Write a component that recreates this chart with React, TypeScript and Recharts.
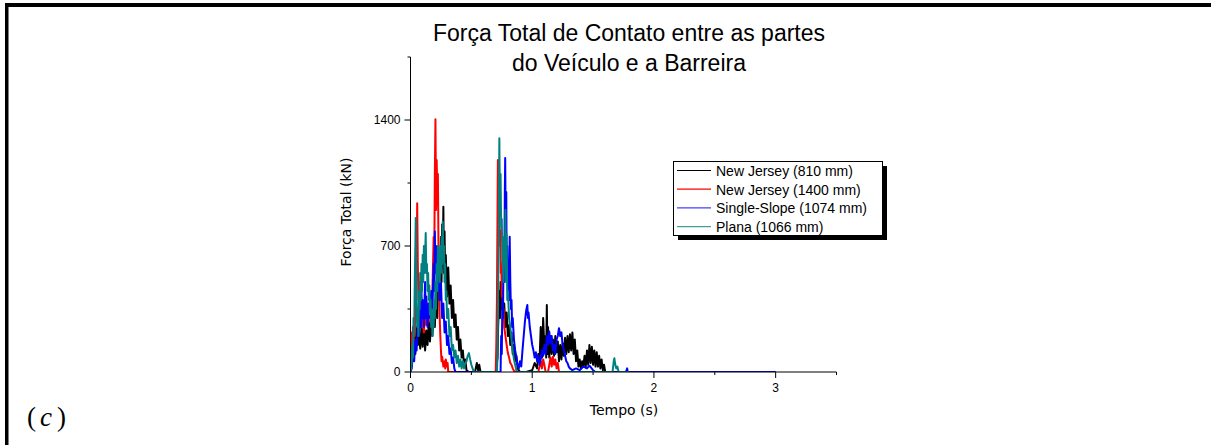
import React from 'react';
import { LineChart, Line, XAxis, YAxis } from 'recharts';

// ---- data (time in s, force in kN) ----
const seriesNames = ['New Jersey (810 mm)', 'New Jersey (1400 mm)', 'Single-Slope (1074 mm)', 'Plana (1066 mm)'];
const seriesColors = ['#000000', '#ff0000', '#0000ff', '#008080'];
const legendColors = ['#000000', '#ff0000', '#4040ff', '#40a0a0'];

const blackPts: [number, number][] = [
  [0, 0], [0.01, 50], [0.02, 180], [0.025, 120], [0.03, 220], [0.04, 100], [0.05, 250], [0.06, 150], [0.07, 200], [0.08, 130],
  [0.09, 250], [0.1, 140], [0.11, 260], [0.12, 120], [0.13, 230], [0.14, 150], [0.15, 280], [0.16, 170], [0.17, 300], [0.18, 200],
  [0.19, 330], [0.2, 250], [0.21, 450], [0.22, 300], [0.23, 600], [0.24, 400], [0.25, 750], [0.255, 500], [0.26, 820], [0.265, 600],
  [0.27, 918], [0.275, 550], [0.28, 780], [0.285, 500], [0.29, 650], [0.3, 420], [0.31, 580], [0.32, 380], [0.33, 480], [0.34, 300],
  [0.35, 400], [0.36, 250], [0.37, 320], [0.38, 180], [0.39, 250], [0.4, 120], [0.41, 180], [0.42, 80], [0.43, 120], [0.44, 40],
  [0.45, 70], [0.46, 10], [0.48, 0], [0.53, 0], [0.545, 50], [0.555, 10], [0.565, 40], [0.575, 0], [0.7, 0], [0.715, 80],
  [0.72, 250], [0.725, 350], [0.73, 450], [0.735, 300], [0.74, 500], [0.745, 350], [0.75, 430], [0.76, 300], [0.77, 380], [0.78, 250],
  [0.79, 330], [0.8, 200], [0.81, 260], [0.82, 150], [0.83, 220], [0.84, 100], [0.85, 150], [0.86, 60], [0.87, 90], [0.88, 20],
  [0.9, 0], [0.95, 0], [1.0, 10], [1.02, 50], [1.04, 20], [1.05, 100], [1.06, 60], [1.07, 250], [1.08, 80], [1.09, 300],
  [1.1, 120], [1.11, 200], [1.115, 80], [1.12, 372], [1.125, 100], [1.13, 250], [1.14, 80], [1.15, 200], [1.16, 100], [1.17, 180],
  [1.18, 90], [1.19, 200], [1.2, 110], [1.21, 170], [1.22, 60], [1.23, 150], [1.24, 70], [1.25, 160], [1.26, 90], [1.27, 190],
  [1.28, 100], [1.29, 200], [1.3, 110], [1.31, 210], [1.32, 120], [1.33, 220], [1.34, 100], [1.35, 180], [1.36, 60], [1.37, 120],
  [1.38, 30], [1.39, 70], [1.4, 20], [1.41, 60], [1.42, 30], [1.43, 90], [1.44, 30], [1.45, 120], [1.46, 40], [1.47, 150],
  [1.48, 50], [1.49, 140], [1.5, 40], [1.51, 120], [1.52, 30], [1.53, 110], [1.54, 30], [1.55, 90], [1.56, 20], [1.57, 70],
  [1.58, 10], [1.59, 40], [1.6, 0], [1.65, 0],
];

const redPts: [number, number][] = [
  [0, 0], [0.005, 150], [0.01, 220], [0.015, 100], [0.02, 250], [0.025, 150], [0.03, 300], [0.035, 200], [0.04, 400], [0.045, 700],
  [0.05, 600], [0.055, 937], [0.06, 600], [0.065, 400], [0.07, 500], [0.075, 300], [0.08, 380], [0.09, 250], [0.1, 330], [0.11, 220],
  [0.12, 350], [0.13, 260], [0.14, 380], [0.15, 280], [0.16, 400], [0.17, 300], [0.18, 450], [0.19, 750], [0.195, 600], [0.2, 1100],
  [0.205, 1404], [0.21, 900], [0.215, 1178], [0.22, 1000], [0.225, 1100], [0.23, 700], [0.235, 500], [0.24, 300], [0.245, 200], [0.25, 120],
  [0.255, 60], [0.26, 85], [0.27, 30], [0.28, 60], [0.285, 20], [0.29, 70], [0.3, 30], [0.305, 50], [0.31, 0], [0.7, 0],
  [0.705, 150], [0.71, 400], [0.715, 900], [0.718, 1178], [0.722, 900], [0.727, 1000], [0.732, 700], [0.737, 789], [0.742, 550], [0.746, 605],
  [0.75, 420], [0.755, 450], [0.76, 320], [0.765, 350], [0.77, 250], [0.78, 200], [0.79, 150], [0.8, 105], [0.81, 80], [0.82, 50],
  [0.83, 40], [0.84, 20], [0.855, 0], [1.05, 0], [1.06, 30], [1.07, 60], [1.08, 20], [1.09, 70], [1.1, 40], [1.11, 0],
  [1.13, 0], [1.14, 40], [1.15, 80], [1.16, 30], [1.17, 85], [1.18, 40], [1.19, 70], [1.2, 20], [1.21, 50], [1.22, 0], [1.5, 0],
];

const bluePts: [number, number][] = [
  [0, 0], [0.01, 20], [0.02, 100], [0.03, 60], [0.04, 180], [0.05, 120], [0.06, 250], [0.07, 200], [0.08, 350], [0.085, 250],
  [0.09, 450], [0.095, 300], [0.1, 400], [0.11, 250], [0.12, 500], [0.125, 300], [0.13, 420], [0.14, 250], [0.15, 380], [0.16, 300],
  [0.17, 450], [0.18, 350], [0.19, 600], [0.195, 450], [0.2, 780], [0.205, 550], [0.21, 700], [0.22, 450], [0.23, 600], [0.24, 400],
  [0.25, 500], [0.26, 300], [0.27, 380], [0.28, 220], [0.29, 280], [0.3, 150], [0.31, 200], [0.32, 100], [0.33, 130], [0.34, 50],
  [0.35, 80], [0.36, 20], [0.37, 0], [0.74, 0], [0.745, 200], [0.75, 100], [0.755, 400], [0.76, 300], [0.765, 700], [0.77, 500],
  [0.775, 1000], [0.778, 1189], [0.782, 800], [0.787, 1000], [0.79, 600], [0.795, 700], [0.8, 450], [0.805, 600], [0.81, 400], [0.815, 752],
  [0.82, 500], [0.825, 350], [0.83, 400], [0.835, 250], [0.84, 300], [0.85, 180], [0.86, 120], [0.87, 80], [0.88, 40], [0.89, 20],
  [0.9, 60], [0.91, 30], [0.92, 120], [0.93, 200], [0.94, 280], [0.95, 340], [0.96, 372], [0.965, 300], [0.97, 330], [0.98, 250],
  [0.99, 200], [1.0, 150], [1.01, 120], [1.02, 80], [1.03, 110], [1.04, 60], [1.05, 90], [1.06, 40], [1.07, 70], [1.08, 120],
  [1.09, 90], [1.1, 150], [1.11, 100], [1.12, 200], [1.13, 150], [1.14, 225], [1.15, 160], [1.16, 200], [1.17, 120], [1.18, 150],
  [1.19, 100], [1.2, 180], [1.21, 200], [1.22, 243], [1.23, 200], [1.24, 220], [1.25, 150], [1.26, 120], [1.27, 90], [1.28, 60],
  [1.29, 50], [1.3, 30], [1.31, 20], [1.33, 10], [1.36, 20], [1.39, 10], [1.42, 30], [1.45, 20], [1.47, 35], [1.5, 10],
  [1.52, 0], [1.77, 0], [1.78, 20], [1.785, 0], [3.0, 0],
];

const tealPts: [number, number][] = [
  [0, 0], [0.01, 50], [0.015, 150], [0.02, 80], [0.025, 300], [0.03, 200], [0.035, 500], [0.04, 700], [0.043, 855], [0.047, 600],
  [0.05, 400], [0.055, 250], [0.06, 350], [0.065, 200], [0.07, 450], [0.075, 350], [0.08, 550], [0.085, 400], [0.09, 600], [0.095, 450],
  [0.1, 650], [0.105, 500], [0.11, 700], [0.115, 550], [0.12, 650], [0.125, 772], [0.13, 550], [0.135, 600], [0.14, 450], [0.145, 550],
  [0.15, 400], [0.155, 480], [0.16, 320], [0.165, 400], [0.17, 250], [0.175, 350], [0.18, 200], [0.185, 300], [0.19, 250], [0.195, 400],
  [0.2, 300], [0.205, 500], [0.21, 350], [0.215, 600], [0.22, 450], [0.225, 700], [0.23, 550], [0.235, 650], [0.24, 500], [0.245, 700],
  [0.25, 550], [0.255, 750], [0.26, 600], [0.265, 835], [0.27, 650], [0.275, 700], [0.28, 500], [0.285, 600], [0.29, 400], [0.295, 450],
  [0.3, 300], [0.31, 350], [0.32, 200], [0.33, 250], [0.34, 120], [0.35, 150], [0.36, 80], [0.37, 120], [0.38, 50], [0.39, 90],
  [0.4, 30], [0.41, 70], [0.42, 20], [0.43, 60], [0.44, 20], [0.45, 50], [0.46, 60], [0.47, 90], [0.48, 105], [0.49, 70],
  [0.5, 40], [0.51, 20], [0.52, 0], [0.71, 0], [0.715, 100], [0.72, 400], [0.725, 800], [0.73, 1298], [0.735, 900], [0.74, 1100],
  [0.745, 800], [0.75, 850], [0.755, 600], [0.76, 750], [0.765, 500], [0.77, 700], [0.775, 600], [0.78, 900], [0.785, 500], [0.79, 765],
  [0.795, 400], [0.8, 450], [0.81, 300], [0.82, 250], [0.83, 180], [0.84, 120], [0.85, 70], [0.86, 40], [0.87, 10], [0.88, 0],
  [1.66, 0], [1.67, 60], [1.675, 77], [1.68, 50], [1.69, 20], [1.7, 30], [1.71, 0], [1.8, 0],
];

const xTicks = [0, 0.5, 1, 1.5, 2, 2.5, 3, 3.5];
const xMajorTicks = [0, 1, 2, 3];
const xTickLabels = ['0', '1', '2', '3'];
const yTicks = [0, 350, 700, 1050, 1400, 1750];
const yMajorTicks = [0, 700, 1400];
const yTickLabels = ['0', '700', '1400'];

const titleLines = ['Força Total de Contato entre as partes', 'do Veículo e a Barreira'];
const xLabel = 'Tempo (s)';
const yLabel = 'Força Total (kN)';

// ---- layout ----
const W = 1211;
const H = 445;
const AX_X = 410.5;
const AX_Y = 372;
const FONT = '"Liberation Sans", Arial, sans-serif';

const toRows = (pts: [number, number][]) => pts.map(([t, f]) => ({ t, f }));
const allSeries = [blackPts, redPts, bluePts, tealPts].map(toRows);

const XTick = (props: any) => {
  const { x, payload } = props;
  const v = payload.value as number;
  const idx = xMajorTicks.indexOf(v);
  const major = idx >= 0;
  return (
    <g>
      <line x1={x} x2={x} y1={AX_Y} y2={AX_Y + (major ? 6 : 3)} stroke="#000" strokeWidth={1} />
      {major && (
        <text x={x} y={AX_Y + 20} textAnchor="middle" fontSize={12} fontFamily={FONT} fill="#000">
          {xTickLabels[idx]}
        </text>
      )}
    </g>
  );
};

const YTick = (props: any) => {
  const { y, payload } = props;
  const v = payload.value as number;
  const idx = yMajorTicks.indexOf(v);
  const major = idx >= 0;
  return (
    <g>
      <line x1={AX_X - (major ? 6 : 3)} x2={AX_X} y1={y} y2={y} stroke="#000" strokeWidth={1} />
      {major && (
        <text x={AX_X - 10} y={y + 4.3} textAnchor="end" fontSize={12} fontFamily={FONT} fill="#000">
          {yTickLabels[idx]}
        </text>
      )}
    </g>
  );
};

export default function App() {
  const legendRowsY = [170.5, 189.2, 207.9, 226.6];
  return (
    <div style={{ position: 'absolute', left: 0, top: 0, width: W, height: H, background: '#fff' }}>
      <LineChart
        width={W}
        height={H}
        margin={{ top: 57, right: W - 836.5, bottom: 43, left: AX_X - 60 }}
      >
        <XAxis
          dataKey="t"
          type="number"
          domain={[0, 3.5]}
          ticks={xTicks}
          interval={0}
          height={30}
          tickLine={false}
          tick={<XTick />}
          axisLine={{ stroke: '#000', strokeWidth: 1 }}
          allowDataOverflow
        />
        <YAxis
          type="number"
          domain={[0, 1750]}
          ticks={yTicks}
          interval={0}
          width={60}
          tickLine={false}
          tick={<YTick />}
          axisLine={{ stroke: '#000', strokeWidth: 1 }}
          allowDataOverflow
        />
        {allSeries.map((rows, i) => (
          <Line
            key={seriesNames[i]}
            data={rows}
            dataKey="f"
            name={seriesNames[i]}
            stroke={seriesColors[i]}
            strokeWidth={2}
            dot={false}
            activeDot={false}
            isAnimationActive={false}
            strokeLinejoin="round"
          />
        ))}
      </LineChart>
      <svg
        width={W}
        height={H}
        style={{ position: 'absolute', left: 0, top: 0, pointerEvents: 'none' }}
      >
        {/* frame */}
        <rect x={5} y={3} width={W - 5} height={4} fill="#000" />
        <rect x={5} y={3} width={3.5} height={H - 3} fill="#000" />
        {/* title */}
        <text x={629} y={41} textAnchor="middle" fontSize={23} fontFamily={FONT} fill="#000">
          {titleLines[0]}
        </text>
        <text x={629} y={71} textAnchor="middle" fontSize={23} fontFamily={FONT} fill="#000">
          {titleLines[1]}
        </text>
        {/* axis labels */}
        <text
          x={0}
          y={0}
          transform="translate(351,212) rotate(-90)"
          textAnchor="middle"
          fontSize={14}
          fontFamily='"DejaVu Sans", sans-serif'
          fill="#000"
        >
          {yLabel}
        </text>
        <text x={624} y={415} textAnchor="middle" fontSize={14} fontFamily='"DejaVu Sans", sans-serif' fill="#000">
          {xLabel}
        </text>
        {/* legend */}
        <rect x={678} y={166} width={209} height={74} fill="#000" />
        <rect x={673.5} y={161.5} width={209} height={74} fill="#fff" stroke="#000" strokeWidth={1} />
        {seriesNames.map((n, i) => (
          <g key={n}>
            <line x1={677} x2={711} y1={legendRowsY[i]} y2={legendRowsY[i]} stroke={legendColors[i]} strokeWidth={1.2} />
            <text x={716} y={legendRowsY[i] + 5.5} fontSize={14} fontFamily={FONT} fill="#000">
              {n}
            </text>
          </g>
        ))}
        {/* panel label */}
        <text x={27} y={426} fontSize={27} fontFamily='"Liberation Serif", "Times New Roman", serif' fill="#000">
          (<tspan fontStyle="italic" dx={4}>c</tspan><tspan dx={5}>)</tspan>
        </text>
      </svg>
    </div>
  );
}
